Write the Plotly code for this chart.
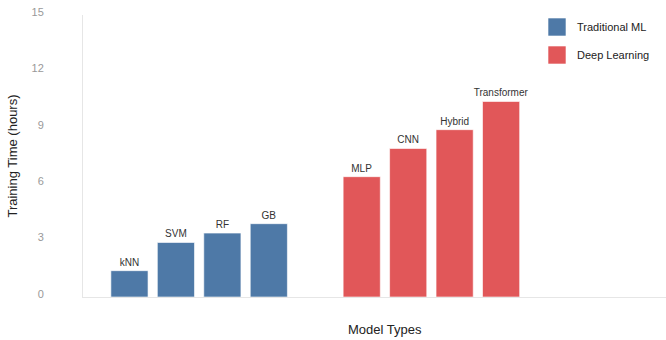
import plotly.graph_objects as go

categories = ["kNN", "SVM", "RF", "GB", " ", "MLP", "CNN", "Hybrid", "Transformer"]
trad_models = ["kNN", "SVM", "RF", "GB"]
trad_times = [1.4, 2.9, 3.4, 3.9]
deep_models = ["MLP", "CNN", "Hybrid", "Transformer"]
deep_times = [6.4, 7.9, 8.9, 10.4]
y_ticks = [0, 3, 6, 9, 12, 15]

BLUE = "#4e79a7"
RED = "#e15759"
FONT = "Liberation Sans, Arial, sans-serif"
PH = 282.0
PW = 583.0

fig = go.Figure()
fig.add_trace(go.Bar(
    x=trad_models, y=trad_times, name="Traditional ML",
    marker=dict(color=BLUE, line=dict(color="rgba(255,255,255,0.6)", width=1)),
    text=trad_models, textposition="outside", cliponaxis=False, constraintext="none",
    textfont=dict(size=10, color="#333333", family=FONT),
    width=0.8, showlegend=False,
))
fig.add_trace(go.Bar(
    x=deep_models, y=deep_times, name="Deep Learning",
    marker=dict(color=RED, line=dict(color="rgba(255,255,255,0.6)", width=1)),
    text=deep_models, textposition="outside", cliponaxis=False, constraintext="none",
    textfont=dict(size=10, color="#333333", family=FONT),
    width=0.8, showlegend=False,
))

# manual legend (layout decoration)
legend_items = [("Traditional ML", BLUE), ("Deep Learning", RED)]
for i, (label, col) in enumerate(legend_items):
    y0 = 1 - (18 + 28 * i - 15) / PH
    fig.add_shape(type="rect", xref="paper", yref="paper",
                  x0=(548 - 83) / PW, x1=(566 - 83) / PW,
                  y0=y0 - 18 / PH, y1=y0,
                  fillcolor=col, line=dict(color="rgba(255,255,255,0.6)", width=1))
    fig.add_annotation(xref="paper", yref="paper", x=(575 - 83) / PW,
                       y=y0 - 9 / PH, text=label, showarrow=False,
                       xanchor="left", yanchor="middle",
                       font=dict(size=11, color="#222222", family=FONT))

# x-axis title
fig.add_annotation(xref="paper", yref="paper", x=(385 - 83) / PW, y=-32 / PH,
                   text="Model Types", showarrow=False, xanchor="center", yanchor="middle",
                   font=dict(size=13, color="#222222", family=FONT))

fig.update_layout(
    width=666, height=340,
    margin=dict(l=83, r=0, t=15, b=43),
    paper_bgcolor="white", plot_bgcolor="white",
    font=dict(family=FONT),
    bargap=0.2,
    xaxis=dict(
        type="category", categoryorder="array", categoryarray=categories,
        range=[-1.0, 11.55], showticklabels=False, ticks="",
        showline=True, linecolor="#e6e6e6", linewidth=1, showgrid=False, zeroline=False,
    ),
    yaxis=dict(
        range=[0, 15], tickvals=y_ticks, ticks="", ticklabelstandoff=36, ticklabelshift=-3,
        tickfont=dict(size=11, color="#999999"),
        showline=True, linecolor="#e6e6e6", linewidth=1, showgrid=False, zeroline=False,
        title=dict(text="Training Time (hours)", font=dict(size=13, color="#222222"), standoff=10),
    ),
)

fig.write_html("out.html")
